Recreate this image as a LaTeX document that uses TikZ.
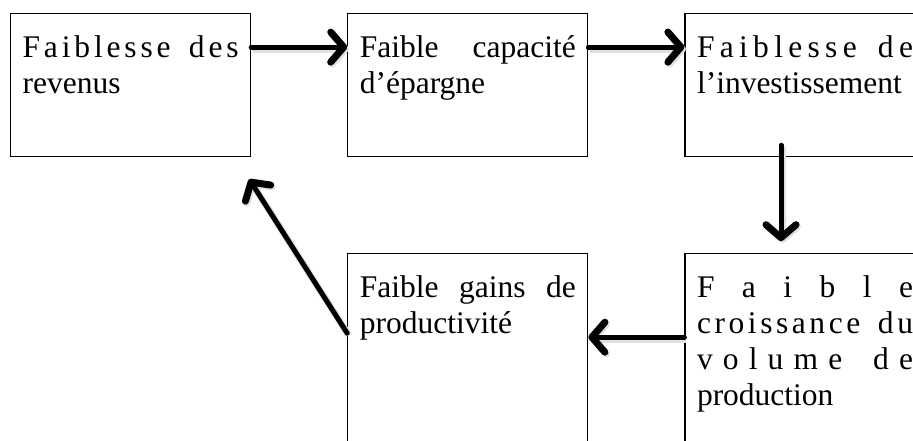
\documentclass[tikz,border=0pt]{standalone}
\usepackage{fontspec}
\setmainfont{Liberation Serif}
\usetikzlibrary{positioning,arrows.meta}
\newcommand{\ligne}[1]{\makebox[216pt][s]{#1}}% ligne justifiee

\begin{document}
\begin{tikzpicture}[x=1pt, y=1pt, node distance=96pt,
		font=\fontsize{31.5pt}{36pt}\selectfont,
		boite/.style={draw, line width=1.2pt, text width=216pt, align=left,
			inner xsep=12pt, inner ysep=0pt, text height=44pt, text depth=99pt},
		longue/.style={text depth=170pt},
		fleche/.style={line width=5pt, line cap=round,
			-{Straight Barb[length=13pt,width=30pt,line width=7pt,round]},
			preaction={draw=black!12, line width=7pt, transform canvas={shift={(1.5pt,-2pt)}}}}]
	\useasboundingbox (0,0) rectangle (913,-441);
	\clip (0,0) rectangle (913,-441);
	% ligne du haut
	\node[boite, anchor=north west] (revenus) at (10,-13)
		{\ligne{F\hfill a\hfill i\hfill b\hfill l\hfill e\hfill s\hfill s\hfill e\hfill\ \hfill d\hfill e\hfill s}\\revenus};
	\node[boite, right=of revenus] (epargne) {\ligne{Faible\hfill capacité}\\d’épargne};
	\node[boite, right=of epargne] (invest)
		{\ligne{F\hfill a\hfill i\hfill b\hfill l\hfill e\hfill s\hfill s\hfill e\hfill\ \hfill d\hfill e}\\l’investissement};
	% ligne du bas
	\node[boite, longue, below=of invest] (production)
		{\ligne{F\hfill a\hfill i\hfill b\hfill l\hfill e}\\
		 \ligne{c\hfill r\hfill o\hfill i\hfill s\hfill s\hfill a\hfill n\hfill c\hfill e\hfill\ \hfill d\hfill u}\\
		 \ligne{v\hfill o\hfill l\hfill u\hfill m\hfill e\hfill\ \hfill d\hfill e}\\production};
	\node[boite, longue, left=of production] (gains) {\ligne{Faible\hfill gains\hfill de}\\productivité};
	% fleches
	\draw[fleche] ([yshift=38pt]revenus.east) -- ([yshift=38pt]epargne.west);
	\draw[fleche] ([yshift=38pt]epargne.east) -- ([yshift=38pt]invest.west);
	\draw[fleche] ([xshift=-24pt,yshift=12pt]invest.south) -- ([xshift=-24pt,yshift=12pt]production.north);
	\draw[fleche] ([yshift=-84pt]production.north west) -- ([yshift=-84pt]gains.north east);
	\draw[fleche] ([yshift=-80pt]gains.north west) -- ([shift={(-2pt,-22pt)}]revenus.south east);
\end{tikzpicture}
\end{document}
